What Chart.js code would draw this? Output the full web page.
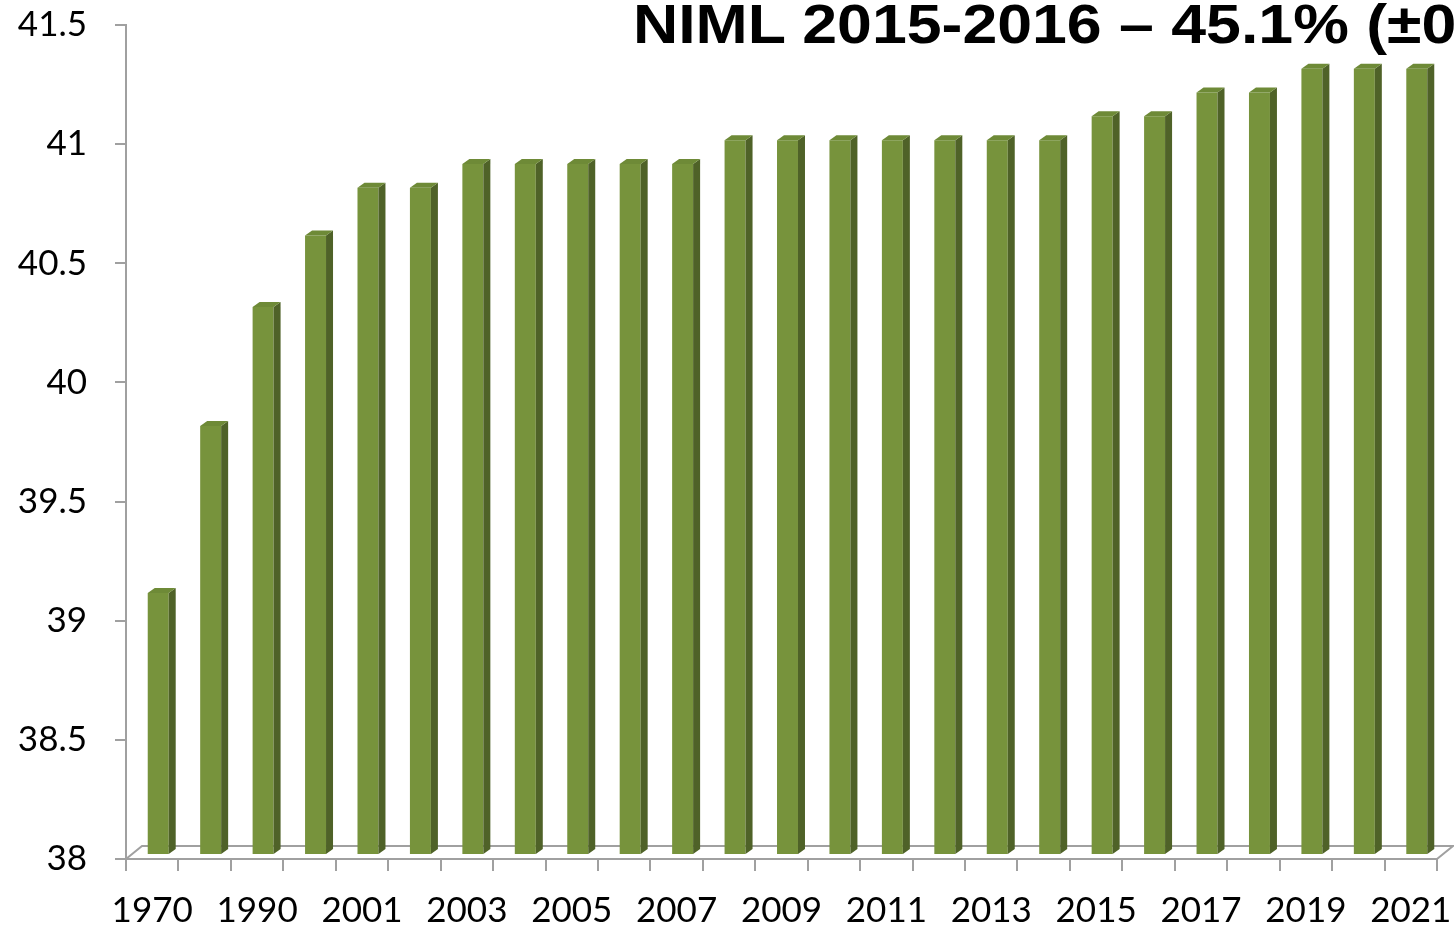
<!DOCTYPE html>
<html>
<head>
<meta charset="utf-8">
<script src="https://cdn.jsdelivr.net/npm/chart.js@4"></script>
<style>
  html, body { margin: 0; padding: 0; background: #fff; overflow: hidden; }
  #wrap { position: relative; width: 1454px; height: 930px; overflow: hidden; }
  #c { position: absolute; left: 0; top: 0; }
  #title {
    position: absolute; left: 633px; top: -9px;
    font-family: "Liberation Sans", Arial, sans-serif; font-weight: bold;
    font-size: 56px; white-space: nowrap; color: #000;
    transform: scaleX(1.118); transform-origin: left top;
  }
</style>
</head>
<body>
<div id="wrap">
  <canvas id="c" width="1454" height="930"></canvas>
  <div id="title">NIML 2015-2016 – 45.1% (±0</div>
</div>
<script>
const categories = ["1970","1980","1990","2000","2001","2002","2003","2004","2005","2006","2007","2008","2009","2010","2011","2012","2013","2014","2015","2016","2017","2018","2019","2020","2021"];
const values = [39.1, 39.8, 40.3, 40.6, 40.8, 40.8, 40.9, 40.9, 40.9, 40.9, 40.9, 41.0, 41.0, 41.0, 41.0, 41.0, 41.0, 41.0, 41.1, 41.1, 41.2, 41.2, 41.3, 41.3, 41.3];
const yMin = 38, yMax = 41.5, yStep = 0.5;

const FRONT = "#77933C", SIDE = "#4F6228", TOP = "#6E8A37";
const AXIS = "#A0A0A0";
const SHIFT_X = 6, SHIFT_Y = -4;   // 3D placement of bars inside floor depth
const DEPTH_X = 7, DEPTH_Y = 5;    // bar depth
const FLOOR_X = 16, FLOOR_Y = 13;  // floor depth

const threeD = {
  id: "threeD",
  beforeDatasetsDraw(chart) {
    const ctx = chart.ctx, a = chart.chartArea;
    ctx.save();
    ctx.strokeStyle = AXIS; ctx.lineWidth = 2;
    ctx.beginPath();
    ctx.moveTo(a.left, a.bottom);
    ctx.lineTo(a.left + FLOOR_X, a.bottom - FLOOR_Y);
    ctx.lineTo(a.right + FLOOR_X, a.bottom - FLOOR_Y);
    ctx.lineTo(a.right, a.bottom);
    ctx.stroke();
    ctx.restore();
    ctx.save();
    ctx.translate(SHIFT_X, SHIFT_Y);
  },
  afterDatasetsDraw(chart) {
    const ctx = chart.ctx;
    ctx.restore();
    ctx.save();
    ctx.translate(SHIFT_X, SHIFT_Y);
    chart.getDatasetMeta(0).data.forEach(el => {
      const p = el.getProps(["x","y","base","width"], true);
      const l = p.x - p.width/2, r = p.x + p.width/2;
      ctx.fillStyle = SIDE;
      ctx.beginPath();
      ctx.moveTo(r, p.y); ctx.lineTo(r + DEPTH_X, p.y - DEPTH_Y);
      ctx.lineTo(r + DEPTH_X, p.base - DEPTH_Y); ctx.lineTo(r, p.base);
      ctx.closePath(); ctx.fill();
      ctx.fillStyle = TOP;
      ctx.beginPath();
      ctx.moveTo(l, p.y); ctx.lineTo(l + DEPTH_X, p.y - DEPTH_Y);
      ctx.lineTo(r + DEPTH_X, p.y - DEPTH_Y); ctx.lineTo(r, p.y);
      ctx.closePath(); ctx.fill();
    });
    ctx.restore();
  }
};

new Chart(document.getElementById("c"), {
  type: "bar",
  data: {
    labels: categories,
    datasets: [{
      data: values,
      base: yMin,
      backgroundColor: FRONT,
      borderWidth: 0,
      barPercentage: 0.40,
      categoryPercentage: 1.0,
      clip: false
    }]
  },
  plugins: [threeD],
  options: {
    responsive: false,
    animation: false,
    events: [],
    layout: { padding: { top: 25, right: 17, left: 0, bottom: 0 } },
    plugins: { legend: { display: false }, tooltip: { enabled: false }, title: { display: false } },
    scales: {
      x: {
        afterFit(s) { s.height = 71; s.paddingLeft = 0; s.paddingRight = 0; },
        grid: { display: true, drawOnChartArea: false, drawTicks: true, tickLength: 12, color: AXIS, lineWidth: 2, offset: true },
        border: { display: true, color: AXIS, width: 2 },
        ticks: {
          autoSkip: false, maxRotation: 0, padding: 19, color: "#000",
          font: { family: "Lato", size: 35 },
          callback(v, i) { return i % 2 === 0 ? categories[i] : ""; }
        }
      },
      y: {
        min: yMin, max: yMax,
        afterFit(s) { s.width = 126; s.paddingTop = 0; s.paddingBottom = 0; },
        grid: { display: true, drawOnChartArea: false, drawTicks: true, tickLength: 11, color: AXIS, lineWidth: 2 },
        border: { display: true, color: AXIS, width: 2 },
        ticks: {
          stepSize: yStep, padding: 28, color: "#000", font: { family: "Lato", size: 35 },
          callback(v) { return String(Number(v)); }
        }
      }
    }
  }
});
</script>
</body>
</html>
